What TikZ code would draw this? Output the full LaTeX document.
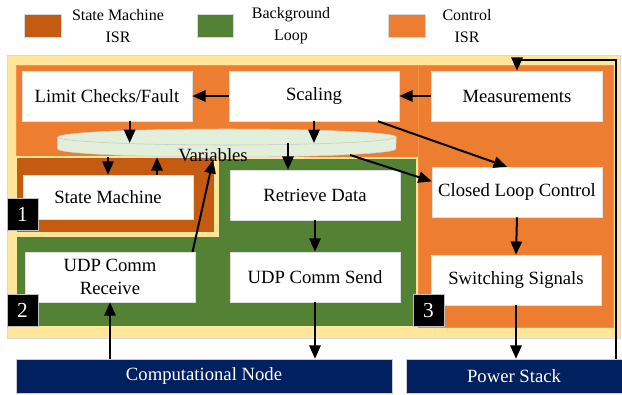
\documentclass[tikz,border=0pt]{standalone}
\usepackage{fontspec}
\setmainfont{Liberation Serif}
\usepackage{xcolor}
\usepackage{tikz}
\usetikzlibrary{arrows.meta, positioning, calc, shapes.geometric}
\definecolor{smorange}{RGB}{197, 90, 17}
\definecolor{bggreen}{RGB}{84, 130, 53}
\definecolor{ctrlorange}{RGB}{237, 125, 49}
\definecolor{paleyellow}{RGB}{255, 230, 153}
\definecolor{varsgreen}{RGB}{226, 239, 218}
\definecolor{navyblue}{RGB}{0, 32, 96}

\begin{document}
\begin{tikzpicture}[x=0.75pt, y=-0.75pt, font=\fontsize{14}{17}\selectfont,
    taskbox/.style={fill=white, draw=gray!25, minimum width=127.5pt, minimum height=37.5pt, inner sep=2pt, align=center},
    hwbox/.style={fill=navyblue, draw=gray!40, text=white, minimum height=25.5pt},
    numbox/.style={fill=black, draw=gray!50, text=white, minimum width=23.25pt, minimum height=24pt, inner sep=0pt, font=\fontsize{16}{18}\selectfont},
    legendtext/.style={align=center, font=\fontsize{12}{16.5}\selectfont},
    flow/.style={line width=1.5pt, -{Triangle[length=10pt, width=8.5pt]}}]
    \useasboundingbox (0,0) rectangle (622,394);

    % Legend
    \filldraw[fill=smorange, draw=gray!30] (24,14) rectangle (61,37);
    \node[legendtext] (lgsm) at (118,26) {State Machine\\ISR};
    \filldraw[fill=bggreen, draw=gray!30] (197,14) rectangle (233,37);
    \node[legendtext] (lgbg) at (291,26) {Background\\Loop};
    \filldraw[fill=ctrlorange, draw=gray!30] (388,14) rectangle (425,37);
    \node[legendtext] (lgctrl) at (467,26) {Control\\ISR};

    % Task regions
    \filldraw[fill=paleyellow, draw=gray!30] (7,55) rectangle (620,338);
    \filldraw[fill=ctrlorange, draw=ctrlorange!80!paleyellow, line width=0.6pt] (16,65) rectangle (418,157);
    \filldraw[fill=ctrlorange, draw=ctrlorange!80!paleyellow, line width=0.6pt] (418,65) rectangle (613,327);
    \filldraw[fill=smorange, draw=paleyellow, line width=1.5pt] (16,157) rectangle (215,233);
    \filldraw[fill=bggreen, draw=paleyellow, line width=1.5pt] (16,236) -- (218,236) -- (218,158) -- (417,158) -- (417,327) -- (16,327) -- cycle;

    % Shared variables
    \node[ellipse, minimum width=253.5pt, minimum height=21pt, inner sep=0pt] (disk) at (227,143) {};
    \filldraw[fill=varsgreen, draw=gray!35] ([yshift=4.5pt]disk.west) -- ([yshift=-4.5pt]disk.west)
        arc[start angle=180, end angle=360, x radius=126.75pt, y radius=6pt] -- ([yshift=4.5pt]disk.east)
        arc[start angle=0, end angle=180, x radius=126.75pt, y radius=6pt] -- cycle;
    \draw[gray!45] ([yshift=4.5pt]disk.west) arc[start angle=180, end angle=360, x radius=126.75pt, y radius=6pt];
    \node (vars) at (213,155) {Variables};

    % Tasks
    \node[taskbox] (lim) at (107,96) {Limit Checks/Fault};
    \node[taskbox] (scal) at (314,96) {Scaling};
    \node[taskbox, minimum width=128pt] (meas) at (517,96) {Measurements};
    \node[taskbox, minimum height=33pt] (sm) at (108,197) {State Machine};
    \node[taskbox] (ret) at (315,195) {Retrieve Data};
    \node[taskbox] (clc) at (517,192) {Closed Loop Control};
    \node[taskbox] (udpr) at (110,277) {UDP Comm\\Receive};
    \node[taskbox] (udps) at (315,277) {UDP Comm Send};
    \node[taskbox] (sw) at (516,280) {Switching Signals};

    % Region numbers
    \node[numbox] (n1) at (22.5,214) {1};
    \node[numbox] (n2) at (22.5,310.5) {2};
    \node[numbox] (n3) at (428.5,310.5) {3};

    % Hardware
    \node[hwbox, minimum width=282pt] (comp) at (204,376) {Computational Node};
    \node[hwbox, minimum width=162pt] (pwr) at (514,376) {Power Stack};

    % Data flow
    \draw[flow] (scal.west) -- (lim.east);
    \draw[flow] (meas.west) -- (scal.east);
    \draw[flow] ([xshift=17pt]lim.south) -- ([xshift=17pt]lim.south |- disk.center);
    \draw[flow] (scal.south) -- (scal.south |- disk.center);
    \draw[flow] (sm.north |- disk.south) -- (sm.north);
    \draw[flow] ([xshift=36.75pt]sm.north) -- ([xshift=36.75pt]sm.north |- disk.south);
    \draw[flow] ([xshift=-20.25pt]ret.north |- disk.center) -- ([xshift=-20.25pt]ret.north);
    \coordinate (vin) at (213,160);
    \draw[flow] ([xshift=-2pt]udpr.north east) -- (vin);
    \coordinate (vout) at (350,155);
    \draw[flow] (vout) -- ([yshift=8pt]clc.west);
    \draw[flow] ([xshift=-16pt]scal.south east) -- ([xshift=-7.5pt]clc.north);
    \draw[flow] (ret.south) -- (udps.north);
    \draw[flow] (clc.south) -- (sw.north);
    \draw[flow] (udps.south) -- (udps.south |- comp.north);
    \draw[flow] (udpr.south |- comp.north) -- (udpr.south);
    \draw[flow] (sw.south) -- (sw.south |- pwr.north);
    \coordinate (fb) at (616,60);
    \draw[flow] (fb |- pwr.north) -- (fb) -| (meas.north);
\end{tikzpicture}
\end{document}
